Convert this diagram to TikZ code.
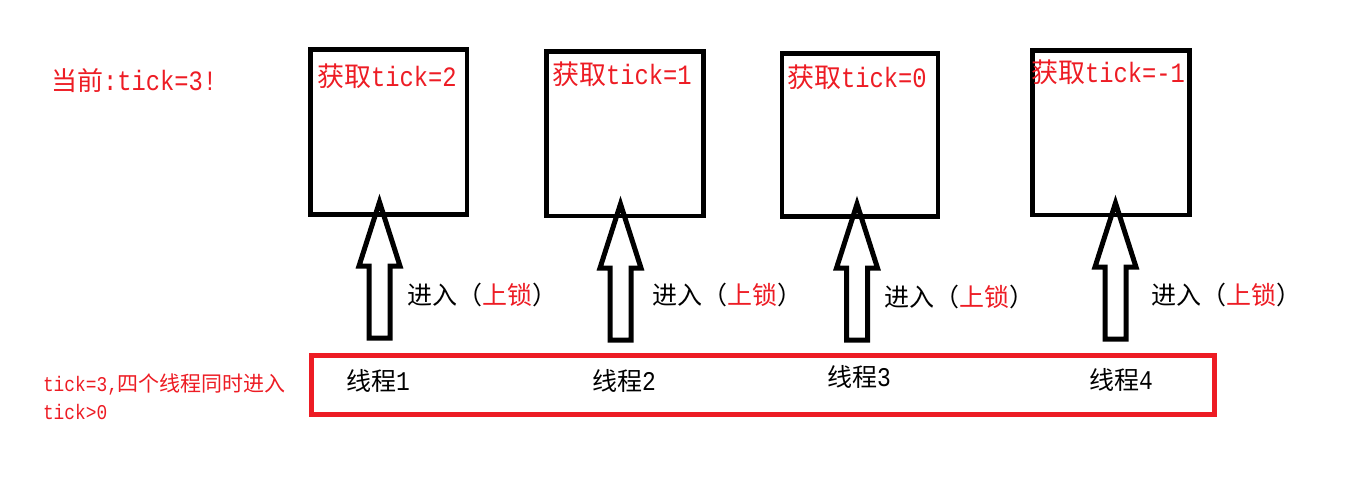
\documentclass[tikz,border=0pt]{standalone}
\usepackage{fontspec}
\setmainfont{Liberation Mono}
\newfontfamily\cjk{Noto Sans CJK SC}
\newfontfamily\mono[FakeStretch=0.85]{Liberation Mono}
\definecolor{pred}{HTML}{ED1C24}
\newcommand{\cj}[2]{{\cjk\fontsize{#1}{#1}\selectfont #2}}
\newcommand{\mo}[2]{{\mono\fontsize{#1}{#1}\selectfont #2}}
\tikzset{
  getbox/.style={draw=black, line width=4.5pt, rectangle, inner sep=0pt},
  threadbox/.style={draw=pred, line width=5pt, rectangle, inner sep=0pt},
  txt/.style={anchor=west, inner sep=0pt, outer sep=0pt},
  redtxt/.style={txt, text=pred},
  blocktip/.pic={
    \draw[line width=5pt, line join=miter, miter limit=10]
      (0,0) -- (-20.5,64) -- (-10.5,64) -- (-10.5,136) -- (10.5,136) -- (10.5,64) -- (20.5,64) -- cycle;
  }
}
\begin{document}
\begin{tikzpicture}[x=1pt,y=-1pt]
\useasboundingbox (0,0) rectangle (1357,479);

% boxes
\node[getbox, minimum width=156.5pt, minimum height=165pt] (b1) at (388.75,132) {};
\node[getbox, minimum width=157pt, minimum height=164.5pt] (b2) at (625,133.75) {};
\node[getbox, minimum width=156pt, minimum height=163pt] (b3) at (860,135) {};
\node[getbox, minimum width=157pt, minimum height=164.5pt] (b4) at (1111,132.75) {};

% thread box
\node[threadbox, minimum width=903pt, minimum height=59pt] (th) at (763,385) {};

% box texts
\node[redtxt] (g1) at (317,76) {\cj{27}{获取}\mo{28}{tick=2}};
\node[redtxt] (g2) at (552,74) {\cj{27}{获取}\mo{28}{tick=1}};
\node[redtxt] (g3) at (787,77) {\cj{27}{获取}\mo{28}{tick=0}};
\node[redtxt] (g4) at (1031,72) {\cj{27}{获取}\mo{28}{tick=-1}};

% current
\node[redtxt] (cur) at (51,81) {\cj{26}{当前}\mo{28}{:tick=3!}};

% lower-left note
\node[redtxt] (n1) at (43,385) {\mo{21}{tick=3,}\cj{21}{四个线程同时进入}};
\node[redtxt] (n2) at (43,412) {\mo{21}{tick>0}};

% arrows
\coordinate (a1) at (379.5,202);
\coordinate (a2) at (620.5,204);
\coordinate (a3) at (857,204);
\coordinate (a4) at (1115.5,203);
\pic at (a1) {blocktip};
\pic at (a2) {blocktip};
\pic at (a3) {blocktip};
\pic at (a4) {blocktip};

% arrow labels
\node[txt] (l1) at (407,295) {\cj{25}{进入（\textcolor{pred}{上锁}）}};
\node[txt] (l2) at (652,295) {\cj{25}{进入（\textcolor{pred}{上锁}）}};
\node[txt] (l3) at (884,297) {\cj{25}{进入（\textcolor{pred}{上锁}）}};
\node[txt] (l4) at (1151,295) {\cj{25}{进入（\textcolor{pred}{上锁}）}};

% thread labels
\node[txt] (t1) at (346,381) {\cj{25}{线程}\mo{27}{1}};
\node[txt] (t2) at (592,381) {\cj{25}{线程}\mo{27}{2}};
\node[txt] (t3) at (827,377) {\cj{25}{线程}\mo{27}{3}};
\node[txt] (t4) at (1089,380) {\cj{25}{线程}\mo{27}{4}};
\end{tikzpicture}
\end{document}
